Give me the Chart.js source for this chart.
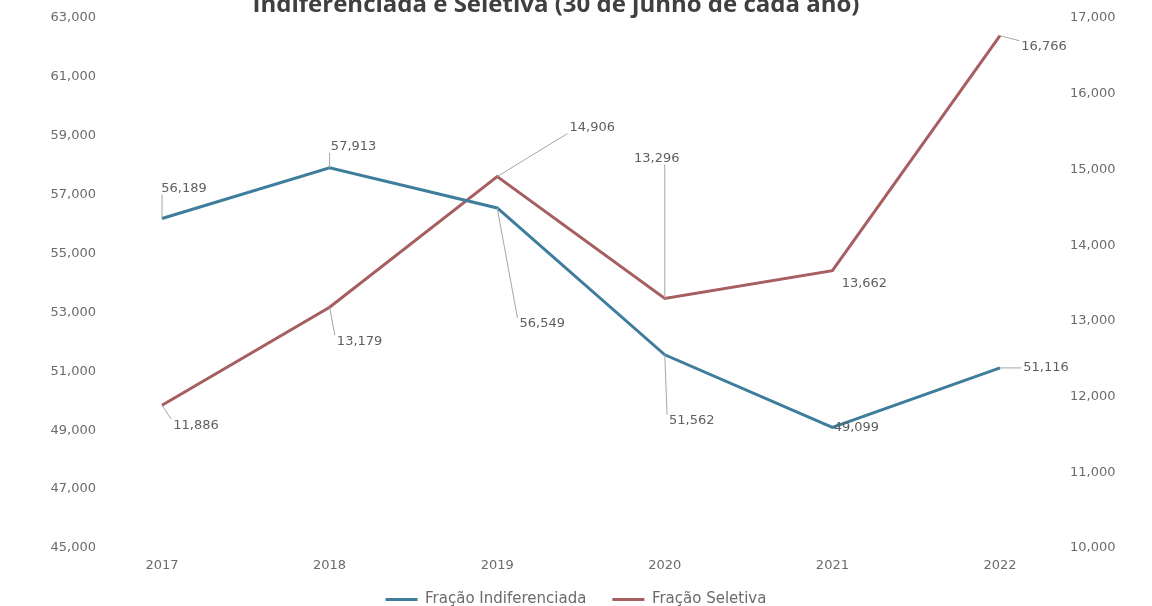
<!DOCTYPE html>
<html><head><meta charset="utf-8">
<script src="https://cdn.jsdelivr.net/npm/chart.js@4.4.0/dist/chart.umd.min.js"></script>
<style>html,body{margin:0;padding:0;background:#fff;} #wrap{width:1152px;height:606px;position:relative;overflow:hidden;}</style>
</head><body><div id="wrap"><canvas id="c" width="1152" height="606"></canvas></div>
<script>
// ---- data ----
const titleText = 'Indiferenciada e Seletiva (30 de junho de cada ano)';
const categories = ['2017', '2018', '2019', '2020', '2021', '2022'];
const seriesNames = ['Fração Indiferenciada', 'Fração Seletiva'];
const indiferenciada = [56189, 57913, 56549, 51562, 49099, 51116];
const seletiva = [11886, 13179, 14906, 13296, 13662, 16766];
const leftAxisRange = [45000, 63000, 2000];
const rightAxisRange = [10000, 17000, 1000];

// ---- styles ----
const textColor = '#6b6b6b';
const fontFamily = '"DejaVu Sans", sans-serif';
const blue = '#3E7E9C';
const red = '#A65E60';
// label centre offsets relative to each point (style only)
const labelOffsets = [
  [[22, -30], [24, -21], [45, 116], [27, 66], [24, 0], [46, 0]],
  [[34, 20], [30, 34], [95, -49], [-8, -140], [32, 13], [44, 11]]
];

const fmt = v => Number(v).toLocaleString('en-US');

const titlePlugin = {
  id: 'cutTitle',
  afterDraw(chart) {
    const ctx = chart.ctx;
    ctx.save();
    ctx.font = 'bold 24px "Open Sans", sans-serif';
    ctx.fillStyle = '#404040';
    ctx.textAlign = 'center';
    ctx.textBaseline = 'alphabetic';
    ctx.fillText(titleText, 556, 12);
    ctx.restore();
  }
};

const labelPlugin = {
  id: 'leaderLabels',
  afterDatasetsDraw(chart) {
    const ctx = chart.ctx;
    ctx.save();
    ctx.font = '13px ' + fontFamily;
    ctx.textAlign = 'center';
    ctx.textBaseline = 'middle';
    chart.data.datasets.forEach((ds, di) => {
      const meta = chart.getDatasetMeta(di);
      meta.data.forEach((pt, i) => {
        const [dx, dy] = labelOffsets[di][i];
        const lx = pt.x + dx, ly = pt.y + dy;
        const text = fmt(ds.data[i]);
        const w = ctx.measureText(text).width;
        const h = 12;
        const rx0 = lx - w / 2 - 2, rx1 = lx + w / 2 + 2, ry0 = ly - h / 2, ry1 = ly + h / 2;
        const nx = Math.min(Math.max(pt.x, rx0), rx1);
        const ny = Math.min(Math.max(pt.y, ry0), ry1);
        const dist = Math.hypot(nx - pt.x, ny - pt.y);
        if (dist > 12) {
          ctx.strokeStyle = '#A6A6A6';
          ctx.lineWidth = 1;
          ctx.beginPath();
          ctx.moveTo(pt.x, pt.y);
          ctx.lineTo(nx, ny);
          ctx.stroke();
        }
        ctx.fillStyle = '#5f5f5f';
        ctx.fillText(text, lx, ly);
      });
    });
    ctx.restore();
  }
};

new Chart(document.getElementById('c'), {
  type: 'line',
  data: {
    labels: categories,
    datasets: [
      { label: seriesNames[0], data: indiferenciada, yAxisID: 'y', borderColor: blue, backgroundColor: blue, borderWidth: 3, pointRadius: 0, tension: 0 },
      { label: seriesNames[1], data: seletiva, yAxisID: 'y1', borderColor: red, backgroundColor: red, borderWidth: 3, pointRadius: 0, tension: 0 }
    ]
  },
  options: {
    responsive: false,
    animation: false,
    devicePixelRatio: 1,
    layout: { padding: { top: 18, left: 0, right: 0, bottom: -11 } },
    scales: {
      x: {
        offset: false,
        grid: { display: false, drawTicks: false },
        border: { display: false },
        ticks: { color: textColor, font: { family: fontFamily, size: 13 }, padding: 10 },
        afterFit: s => { s.height = 18; s._computeLabelArea = () => undefined; }
      },
      y: {
        position: 'left',
        min: leftAxisRange[0], max: leftAxisRange[1],
        grid: { display: false, drawTicks: false },
        border: { display: false },
        ticks: { stepSize: leftAxisRange[2], color: textColor, font: { family: fontFamily, size: 13 }, padding: 66, callback: v => fmt(v) },
        afterFit: s => { s.width = 162; s.paddingTop = 7; s.paddingBottom = 7; }
      },
      y1: {
        position: 'right',
        min: rightAxisRange[0], max: rightAxisRange[1],
        grid: { display: false, drawTicks: false },
        border: { display: false },
        ticks: { stepSize: rightAxisRange[2], color: textColor, font: { family: fontFamily, size: 13 }, padding: 70, callback: v => fmt(v) },
        afterFit: s => { s.width = 152; s.paddingTop = 7; s.paddingBottom = 7; }
      }
    },
    plugins: {
      legend: {
        position: 'bottom',
        labels: { usePointStyle: true, pointStyle: 'line', pointStyleWidth: 32, color: textColor, font: { family: fontFamily, size: 15 }, padding: 26 }
      },
      tooltip: { enabled: false }
    }
  },
  plugins: [labelPlugin, titlePlugin]
});
</script>
</body></html>
